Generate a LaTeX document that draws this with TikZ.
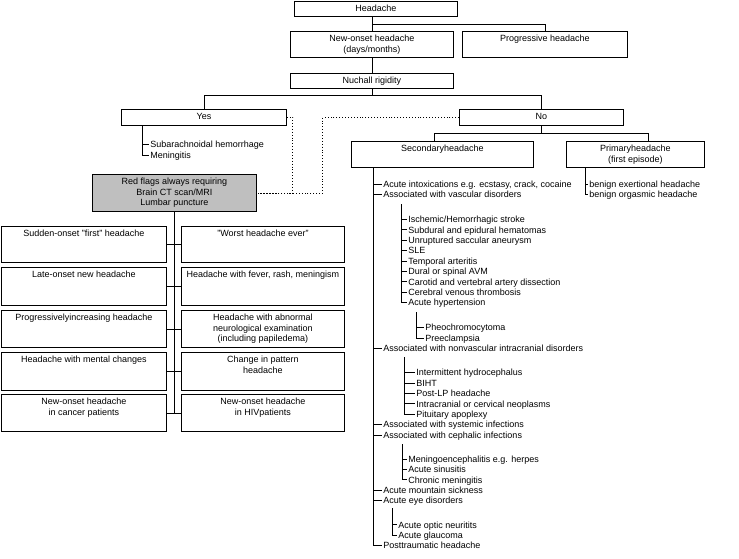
\documentclass[tikz,border=0pt]{standalone}
\usepackage{fontspec}
\setmainfont{Liberation Sans}
\newcommand\mybox[7][white]{%
  \node[box, fill=#1, minimum width={(#5)-(#3)}, minimum height={(#6)-(#4)}] (#2) at (#3,#4) {};
  \node[txt] (#2t) at ([yshift=-3.9pt]#2.north) {#7};}
\newcommand\myitm[4]{\node[itm] (#1) at (#2,#3) {#4};}
\begin{document}
\begin{tikzpicture}[x=1pt,y=-1pt, line width=0.9pt, font=\fontsize{9}{10.5}\selectfont,
  box/.style={draw, inner sep=0pt, anchor=north west},
  txt/.style={inner sep=0pt, align=center, anchor=north},
  itm/.style={inner xsep=1pt, inner ysep=0pt, text height=6.5pt, text depth=0pt, anchor=west},
  dots/.style={dotted, line width=0.9pt}]
\useasboundingbox (0,0) rectangle (739,558);

% top boxes
\mybox{head}{294}{1}{457}{16}{Headache}
\mybox{newon}{290}{31}{453}{57}{New-onset headache\\(days/months)}
\mybox{prog}{462}{31}{627}{57}{Progressive headache}
\mybox{nuch}{290}{73}{453}{88}{Nuchall rigidity}
\mybox{yes}{121}{109}{286}{125}{Yes}
\mybox{no}{459}{109}{623}{125}{No}
\mybox[gray!50]{red}{92}{174}{256}{211}{Red flags always requiring\\Brain CT scan/MRI\\Lumbar puncture}
\mybox{sec}{351}{141}{533}{167}{Secondaryheadache}
\mybox{pri}{566}{141}{704}{167}{Primaryheadache\\(first episode)}

% red flag boxes
\mybox{ra1}{1}{226}{166}{262}{Sudden-onset "first" headache}
\mybox{rb1}{181}{226}{344}{262}{"Worst headache ever"}
\mybox{ra2}{1}{267}{166}{305}{Late-onset new headache}
\mybox{rb2}{181}{267}{344}{305}{Headache with fever, rash, meningism}
\mybox{ra3}{1}{310}{166}{347}{Progressivelyincreasing headache}
\mybox{rb3}{181}{310}{344}{347}{Headache with abnormal\\neurological examination\\(including papiledema)}
\mybox{ra4}{1}{352}{166}{390}{Headache with mental changes}
\mybox{rb4}{181}{352}{344}{390}{Change in pattern\\headache}
\mybox{ra5}{1}{394}{166}{431}{New-onset headache\\in cancer patients}
\mybox{rb5}{181}{394}{344}{431}{New-onset headache\\in HIVpatients}

% connectors top
\draw (newon.north |- head.south) -- (newon.north);
\draw (newon.north) ++(0,-7) -| (prog.north);
\draw (newon.south) -- (nuch.north);
\draw (nuch.south) -- ++(0,7);
\draw (yes.north) |- ([yshift=-7pt]nuch.south) -| (no.north);
\draw (no.south) -- ++(0,8);
\draw ([xshift=83pt]sec.north west) |- ([yshift=-8pt]no.south) -| ([xshift=82pt]pri.north west);

% dotted links
\draw[dots] (yes.east) -| ([xshift=36pt]red.east) -- (red.east);
\draw[dots] (no.west) -| ([xshift=66pt]red.east) -- (red.east);

% red flags tree
\draw (red.south) -- (red.south |- ra5.east);
\foreach \i in {1,...,5} { \draw (ra\i.east) -- (rb\i.west); }

% Yes list
\coordinate (yv) at ([xshift=21pt]yes.south west);
\myitm{y1}{149}{144}{Subarachnoidal hemorrhage}
\myitm{y2}{149}{155}{Meningitis}
\foreach \n in {y1,y2} { \draw (yv) |- (\n.west); }

% Primary list
\coordinate (pv) at ([xshift=19pt]pri.south west);
\myitm{p1}{588}{184.3}{benign exertional headache}
\myitm{p2}{588}{194.7}{benign orgasmic headache}
\foreach \n in {p1,p2} { \draw (pv) |- (\n.west); }

% Secondary list
\coordinate (sv) at ([xshift=22pt]sec.south west);
\myitm{m1}{382}{184.3}{Acute intoxications e.g. ecstasy, crack, cocaine}
\myitm{m2}{382}{194.7}{Associated with vascular disorders}
\myitm{m3}{382}{348.4}{Associated with nonvascular intracranial disorders}
\myitm{m4}{382}{424.6}{Associated with systemic infections}
\myitm{m5}{382}{435}{Associated with cephalic infections}
\myitm{m6}{382}{490.2}{Acute mountain sickness}
\myitm{m7}{382}{500.6}{Acute eye disorders}
\myitm{m8}{382}{545.6}{Posttraumatic headache}
\foreach \n in {m1,m2,m3,m4,m5,m6,m7,m8} { \draw (sv) |- (\n.west); }

% vascular
\coordinate (vv) at (401,204);
\myitm{v1}{407}{219.5}{Ischemic/Hemorrhagic stroke}
\myitm{v2}{407}{229.9}{Subdural and epidural hematomas}
\myitm{v3}{407}{240.3}{Unruptured saccular aneurysm}
\myitm{v4}{407}{250.7}{SLE}
\myitm{v5}{407}{261.1}{Temporal arteritis}
\myitm{v6}{407}{271.5}{Dural or spinal AVM}
\myitm{v7}{407}{281.9}{Carotid and vertebral artery dissection}
\myitm{v8}{407}{292.3}{Cerebral venous thrombosis}
\myitm{v9}{407}{302.7}{Acute hypertension}
\foreach \n in {v1,v2,v3,v4,v5,v6,v7,v8,v9} { \draw (vv) |- (\n.west); }

% hypertension
\coordinate (hv) at (416,312);
\myitm{h1}{424}{327.6}{Pheochromocytoma}
\myitm{h2}{424}{338}{Preeclampsia}
\foreach \n in {h1,h2} { \draw (hv) |- (\n.west); }

% nonvascular
\coordinate (nv) at (404,357);
\myitm{n1}{415}{372.6}{Intermittent hydrocephalus}
\myitm{n2}{415}{383}{BIHT}
\myitm{n3}{415}{393.4}{Post-LP headache}
\myitm{n4}{415}{403.8}{Intracranial or cervical neoplasms}
\myitm{n5}{415}{414.2}{Pituitary apoplexy}
\foreach \n in {n1,n2,n3,n4,n5} { \draw (nv) |- (\n.west); }

% cephalic
\coordinate (cv) at (402,444);
\myitm{c1}{407}{459}{Meningoencephalitis e.g. herpes}
\myitm{c2}{407}{469.4}{Acute sinusitis}
\myitm{c3}{407}{479.8}{Chronic meningitis}
\foreach \n in {c1,c2,c3} { \draw (cv) |- (\n.west); }

% eye
\coordinate (ev) at (392,508);
\myitm{e1}{397}{524.8}{Acute optic neuritits}
\myitm{e2}{397}{535.2}{Acute glaucoma}
\foreach \n in {e1,e2} { \draw (ev) |- (\n.west); }
\end{tikzpicture}
\end{document}
